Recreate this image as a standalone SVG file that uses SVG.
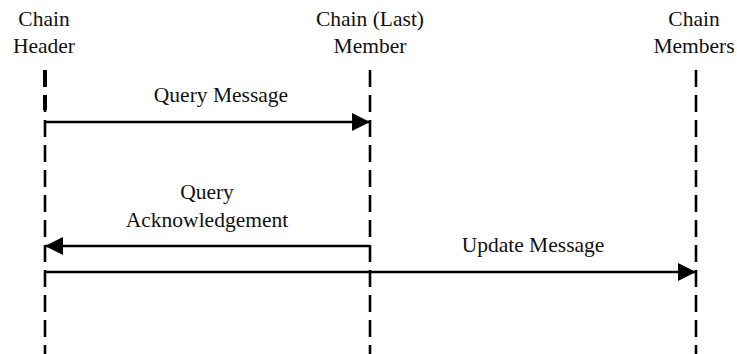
<svg xmlns="http://www.w3.org/2000/svg" width="737" height="354" viewBox="0 0 737 354">
<style>
text{font-family:"Liberation Serif","Times New Roman",serif;font-size:21.5px;fill:#111;text-anchor:middle}
.life{stroke:#000;stroke-width:2.6;stroke-dasharray:17 8;fill:none}
.msg{stroke:#000;stroke-width:2.6;fill:none}
</style>
<defs>
<marker id="ah" markerUnits="userSpaceOnUse" markerWidth="18" markerHeight="18" viewBox="0 0 17 17" refX="17" refY="8.5" orient="auto">
<path d="M0,0 L17,8.5 L0,17 Z" fill="#000"/>
</marker>
</defs>
<g id="header">
<text x="44" y="26">Chain</text>
<text x="44" y="53">Header</text>
<line class="life" x1="45" y1="70" x2="45" y2="354"/>
<line x1="45" y1="70" x2="45" y2="110" stroke="#000" stroke-width="4" stroke-dasharray="17 8"/>
</g>
<g id="last">
<text x="370" y="26">Chain (Last)</text>
<text x="370" y="53">Member</text>
<line class="life" x1="370" y1="70" x2="370" y2="354"/>
</g>
<g id="members">
<text x="694" y="26">Chain</text>
<text x="694" y="53">Members</text>
<line class="life" x1="696" y1="70" x2="696" y2="354"/>
</g>
<g id="connectors">
<line class="msg" x1="45" y1="122" x2="370" y2="122" marker-end="url(#ah)"/>
<text x="221" y="102">Query Message</text>
<line class="msg" x1="370" y1="246" x2="45" y2="246" marker-end="url(#ah)"/>
<text x="207" y="199">Query</text>
<text x="207" y="227">Acknowledgement</text>
<line class="msg" x1="45" y1="272" x2="696" y2="272" marker-end="url(#ah)"/>
<text x="533" y="252">Update Message</text>
</g>
</svg>
